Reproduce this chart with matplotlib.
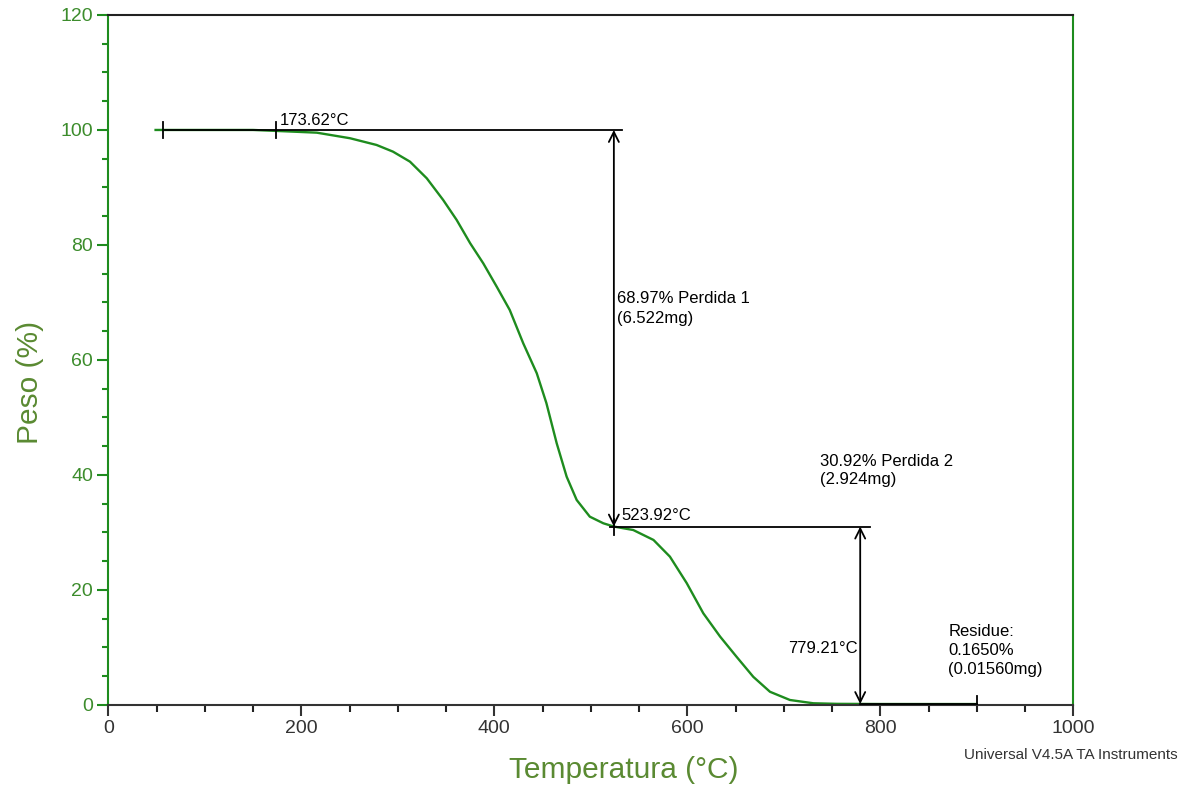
import numpy as np
import matplotlib.pyplot as plt
from matplotlib.ticker import MultipleLocator

plt.rcParams['font.family'] = ['Liberation Sans', 'DejaVu Sans']

# TGA curve
temperatura = [49, 100, 150, 174.5, 216, 250.5, 278, 295, 312.6, 330, 347, 361, 375, 388.6,
               402.5, 416, 430, 444, 454, 464.7, 475, 485.4, 499, 513, 523.9, 544, 565,
               582, 599.4, 616.6, 634, 651, 668.4, 685.7, 706.4, 730.6, 755, 800, 850, 900]
peso = [100.0, 100.0, 100.0, 99.83, 99.53, 98.56, 97.39, 96.23, 94.49, 91.6, 87.83, 84.35,
        80.3, 76.8, 72.75, 68.7, 62.9, 57.7, 52.5, 45.5, 39.7, 35.65, 32.75, 31.6, 31.03,
        30.43, 28.7, 25.8, 21.2, 15.95, 11.9, 8.4, 4.9, 2.3, 0.87, 0.3, 0.2, 0.17, 0.166,
        0.165]

# analysis markers
inicio = [57, 173.62]
t1 = 523.92
t2 = 779.21
t_fin = 900
peso_1 = 31.03
residuo = 0.165

verde = '#1e8c1e'
verde_txt = '#3c8c2c'
verde_lbl = '#5a8a32'

fig = plt.figure(figsize=(11.85, 7.87), dpi=100)
ax = fig.add_axes([0.0914, 0.1042, 0.8143, 0.8768])

ax.plot(temperatura, peso, color=verde, lw=1.7, zorder=2)

# step 1
ax.plot([59, 532.6], [100, 100], color='black', lw=1.3, zorder=3)
for t in inicio:
    ax.plot([t, t], [98.6, 101.4], color='black', lw=1.3, zorder=3)
ax.annotate('', xy=(t1, peso_1), xytext=(t1, 100),
            arrowprops=dict(arrowstyle='<->', color='black', lw=1.3,
                            mutation_scale=18, shrinkA=0, shrinkB=0), zorder=3)

# step 2
ax.plot([520, 789.6], [peso_1, peso_1], color='black', lw=1.3, zorder=3)
ax.plot([t1, t1], [peso_1 - 1.4, peso_1 + 1.4], color='black', lw=1.3, zorder=3)
ax.annotate('', xy=(t2, residuo), xytext=(t2, peso_1),
            arrowprops=dict(arrowstyle='<->', color='black', lw=1.3,
                            mutation_scale=18, shrinkA=0, shrinkB=0), zorder=3)

# residue
ax.plot([t2, t_fin], [residuo, residuo], color='black', lw=1.3, zorder=3)
ax.plot([t_fin, t_fin], [residuo - 1.4, residuo + 1.4], color='black', lw=1.3, zorder=3)

fs = 12
ax.text(178, 100.4, '173.62°C', fontsize=fs, ha='left', va='bottom')
ax.text(527.5, 72.0, '68.97% Perdida 1\n(6.522mg)', fontsize=fs, ha='left', va='top',
        linespacing=1.45)
ax.text(531.6, 31.6, '523.92°C', fontsize=fs, ha='left', va='bottom')
ax.text(738, 43.6, '30.92% Perdida 2\n(2.924mg)', fontsize=fs, ha='left', va='top',
        linespacing=1.22)
ax.text(777, 9.9, '779.21°C', fontsize=fs, ha='right', va='center')
ax.text(870.5, 14.1, 'Residue:\n0.1650%\n(0.01560mg)', fontsize=fs, ha='left', va='top',
        linespacing=1.35)

ax.set_xlim(0, 1000)
ax.set_ylim(0, 120)
ax.xaxis.set_major_locator(MultipleLocator(200))
ax.xaxis.set_minor_locator(MultipleLocator(50))
ax.yaxis.set_major_locator(MultipleLocator(20))
ax.yaxis.set_minor_locator(MultipleLocator(5))

ax.spines['left'].set_color(verde)
ax.spines['right'].set_color(verde)
ax.spines['top'].set_color('#222222')
ax.spines['bottom'].set_color('#333333')
for s in ax.spines.values():
    s.set_linewidth(1.5)

ax.tick_params(axis='x', which='major', direction='out', length=8, width=1.5,
               colors='#333333', labelsize=14, pad=3)
ax.tick_params(axis='x', which='minor', direction='out', length=5, width=1.5, colors='#222222')
ax.tick_params(axis='y', which='major', direction='out', length=8, width=1.5,
               colors=verde, labelcolor=verde_txt, labelsize=14, pad=3)
ax.tick_params(axis='y', which='minor', direction='out', length=4, width=1.5, colors=verde)

ax.set_xlabel('Temperatura (°C)', fontsize=21.5, color=verde_lbl, va='center')
ax.set_ylabel('Peso (%)', fontsize=21.5, color=verde_lbl, va='center')
ax.xaxis.set_label_coords(0.534, -0.094)
ax.yaxis.set_label_coords(-0.081, 0.467)

fig.text(0.994, 0.0407, 'Universal V4.5A TA Instruments', fontsize=11, color='#333333',
         ha='right', va='center')

fig.savefig('out.png', dpi=100)
